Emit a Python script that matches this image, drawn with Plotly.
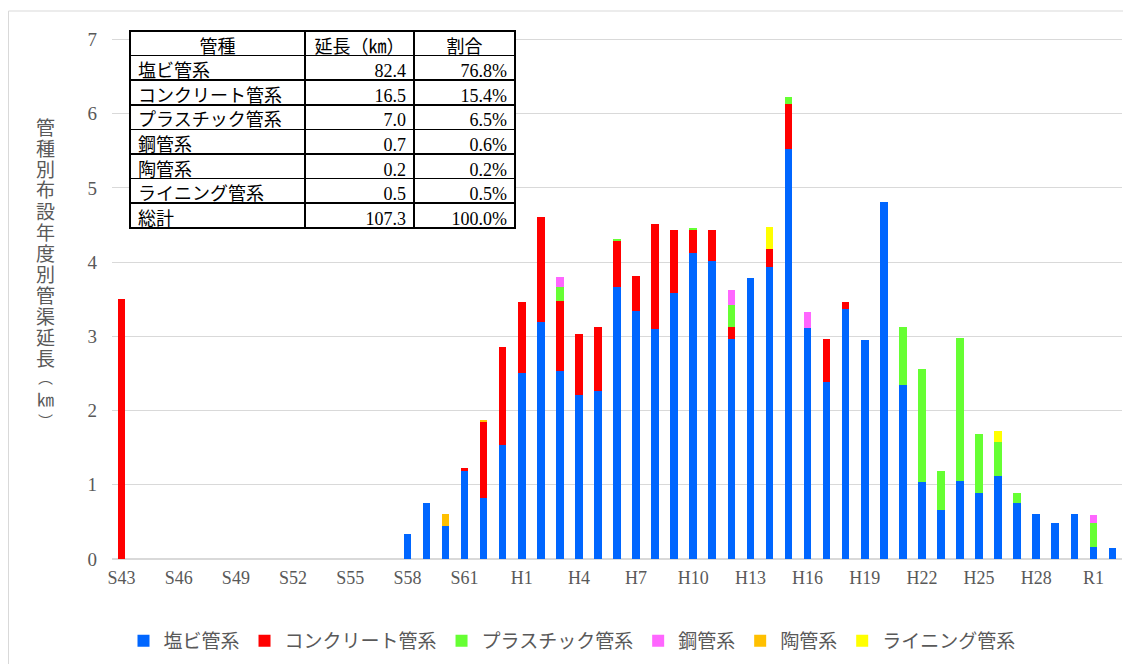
import plotly.graph_objects as go

# 年度（S43〜R2）
years = ([f"S{y}" for y in range(43, 64)]
         + [f"H{y}" for y in range(1, 31)]
         + ["R1", "R2"])

# 管種別布設延長 (km) ― 年度順
enbi = [0, 0, 0, 0, 0, 0, 0, 0, 0, 0, 0, 0, 0, 0, 0, 0.34, 0.76, 0.45, 1.19, 0.82, 1.54,
        2.50, 3.19, 2.54, 2.21, 2.26, 3.67, 3.34, 3.10, 3.58, 4.13,
        4.02, 2.97, 3.79, 3.93, 5.53, 3.11, 2.39, 3.37, 2.95, 4.81,
        2.34, 1.04, 0.66, 1.05, 0.89, 1.12, 0.76, 0.61, 0.49, 0.61,
        0.16, 0.15]
concrete = [3.50, 0, 0, 0, 0, 0, 0, 0, 0, 0, 0, 0, 0, 0, 0, 0, 0, 0, 0.04, 1.03, 1.32,
            0.96, 1.42, 0.93, 0.82, 0.86, 0.62, 0.47, 1.42, 0.85, 0.30,
            0.41, 0.15, 0, 0.25, 0.60, 0, 0.58, 0.09, 0, 0,
            0, 0, 0, 0, 0, 0, 0, 0, 0, 0,
            0, 0]
plastic = [0, 0, 0, 0, 0, 0, 0, 0, 0, 0, 0, 0, 0, 0, 0, 0, 0, 0, 0, 0, 0,
           0, 0, 0.20, 0, 0, 0.02, 0, 0, 0, 0.03,
           0, 0.30, 0, 0, 0.09, 0, 0, 0, 0, 0,
           0.78, 1.52, 0.53, 1.93, 0.79, 0.45, 0.13, 0, 0, 0,
           0.32, 0]
steel = [0, 0, 0, 0, 0, 0, 0, 0, 0, 0, 0, 0, 0, 0, 0, 0, 0, 0, 0, 0, 0,
         0, 0, 0.13, 0, 0, 0, 0, 0, 0, 0,
         0, 0.20, 0, 0, 0, 0.22, 0, 0, 0, 0,
         0, 0, 0, 0, 0, 0, 0, 0, 0, 0,
         0.11, 0]
tokan = [0, 0, 0, 0, 0, 0, 0, 0, 0, 0, 0, 0, 0, 0, 0, 0, 0, 0.16, 0, 0.02, 0,
         0, 0, 0, 0, 0, 0, 0, 0, 0, 0,
         0, 0, 0, 0, 0, 0, 0, 0, 0, 0,
         0, 0, 0, 0, 0, 0, 0, 0, 0, 0,
         0, 0]
lining = [0, 0, 0, 0, 0, 0, 0, 0, 0, 0, 0, 0, 0, 0, 0, 0, 0, 0, 0, 0, 0,
          0, 0, 0, 0, 0, 0, 0, 0, 0, 0,
          0, 0, 0, 0.29, 0, 0, 0, 0, 0, 0,
          0, 0, 0, 0, 0, 0.16, 0, 0, 0, 0,
          0, 0]

series_names = ["塩ビ管系", "コンクリート管系", "プラスチック管系", "鋼管系", "陶管系", "ライニング管系"]
series_vals = [enbi, concrete, plastic, steel, tokan, lining]
colors = ["#0066FF", "#FF0000", "#66FF33", "#FF66FF", "#FFC000", "#FFFF00"]

# 集計表
tbl_header = ["管種", "延長（㎞）", "割合"]
tbl_kind = series_names + ["総計"]
tbl_len = ["82.4", "16.5", "7.0", "0.7", "0.2", "0.5", "107.3"]
tbl_pct = ["76.8%", "15.4%", "6.5%", "0.6%", "0.2%", "0.5%", "100.0%"]

FONT = "Liberation Serif, Noto Sans CJK JP, serif"
GRAY = "#595959"

# ページの body margin (8px) を差し引いたサイズ
W, H = 1123, 656
ML, MR, MT, MB = 104, 9, 23, 105
PW, PH = W - ML - MR, H - MT - MB


def px_x(x):  # 画面上のx(px) -> paper
    return (x - 8 - ML) / PW


def px_y(y):  # 画面上のy(px) -> paper
    return (H - MB - (y - 8)) / PH


fig = go.Figure()
for name, vals, c in zip(series_names, series_vals, colors):
    fig.add_trace(go.Bar(
        x=years, y=vals, name=name,
        marker=dict(color=c, line=dict(width=0)),
    ))

fig.add_trace(go.Table(
    domain=dict(x=[px_x(130), px_x(515)], y=[px_y(231), 1.0]),
    columnwidth=[175, 109, 101],
    header=dict(
        values=tbl_header, height=24.6, align="center",
        fill=dict(color="white"), line=dict(color="black", width=1.5),
        font=dict(family=FONT, size=18, color="black"),
    ),
    cells=dict(
        values=[tbl_kind, tbl_len, tbl_pct], height=24.6,
        align=["left", "right", "right"],
        fill=dict(color="white"), line=dict(color="black", width=1.5),
        font=dict(family=FONT, size=18, color="black"),
    ),
))

# 縦書きの軸タイトル（1文字ずつ）
title_chars = list("管種別布設年度別管渠延長") + ["︵", "㎞", "︶"]
title_y = [128 + 21 * i for i in range(12)] + [378, 400, 422]
title_size = [19] * 12 + [15, 17, 15]
for ch, yp, fs in zip(title_chars, title_y, title_size):
    fig.add_annotation(
        x=px_x(45), y=px_y(yp), xref="paper", yref="paper",
        text=ch, showarrow=False,
        font=dict(family=FONT, size=fs, color=GRAY),
        xanchor="center", yanchor="middle",
    )

# 外枠
fig.add_shape(
    type="rect", xref="paper", yref="paper",
    x0=px_x(8.5), x1=px_x(1140), y0=px_y(680), y1=px_y(11),
    line=dict(color="#D9D9D9", width=1), fillcolor="rgba(0,0,0,0)",
)

fig.update_xaxes(
    type="category", tickmode="array",
    tickvals=years[::3], ticktext=years[::3],
    tickfont=dict(family=FONT, size=18, color=GRAY),
    showgrid=False, ticks="", ticklabelstandoff=6, automargin=False,
)
fig.update_yaxes(
    range=[0, 7.115], dtick=1, tick0=0,
    tickfont=dict(family=FONT, size=19, color=GRAY),
    gridcolor="#D9D9D9", gridwidth=1,
    zeroline=True, zerolinecolor="#D9D9D9", zerolinewidth=1.5,
    ticks="", ticklabelstandoff=14, automargin=False,
)
fig.update_layout(
    barmode="stack", bargap=0.6,
    width=W, height=H,
    margin=dict(l=ML, r=MR, t=MT, b=MB, autoexpand=False),
    plot_bgcolor="white", paper_bgcolor="white",
    font=dict(family=FONT, color=GRAY),
    legend=dict(
        orientation="h", x=px_x(572), xanchor="center", y=px_y(641), yanchor="middle",
        font=dict(family=FONT, size=19, color=GRAY),
        itemwidth=30, traceorder="normal",
    ),
)

fig.write_html("out.html")
